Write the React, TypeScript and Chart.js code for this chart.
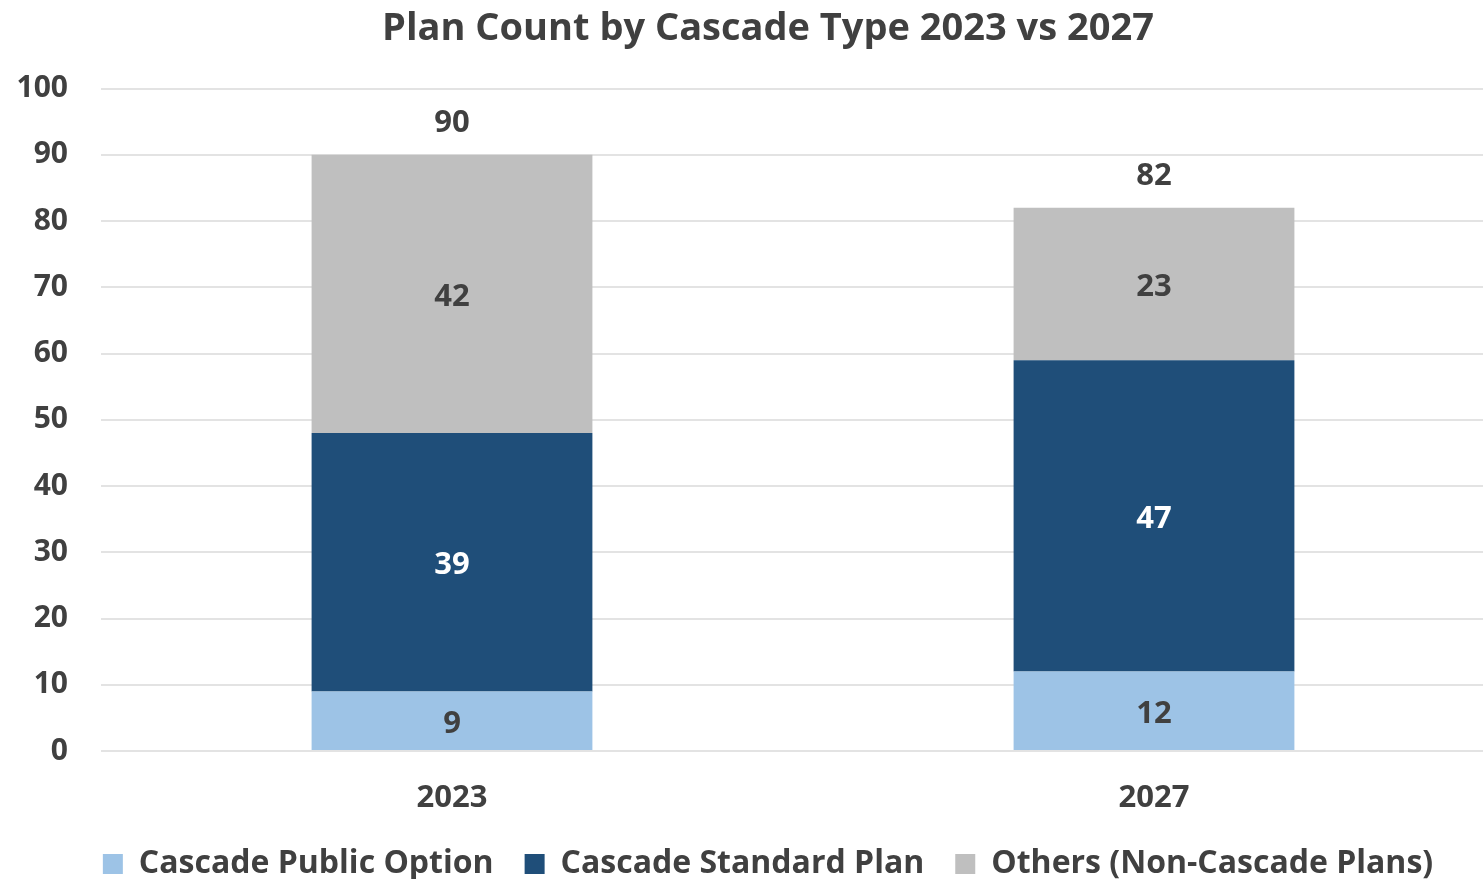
import React, { useEffect, useRef } from "react";
import { Chart, registerables } from "chart.js";

Chart.register(...registerables);

const categories = ["2023", "2027"];
const seriesNames = ["Cascade Public Option", "Cascade Standard Plan", "Others (Non-Cascade Plans)"];
const publicOption = [9, 12];
const standardPlan = [39, 47];
const others = [42, 23];
const totals = [90, 82];
const seriesColors = ["#9DC3E6", "#1F4E79", "#BFBFBF"];
const labelColors = ["#404040", "#FFFFFF", "#404040"];

const FONT = "'Open Sans', 'Noto Sans', sans-serif";
const TEXT = "#404040";

const labelPlugin = {
  id: "segLabels",
  afterDatasetsDraw(chart: any) {
    const ctx = chart.ctx;
    ctx.save();
    ctx.font = `bold 31px ${FONT}`;
    ctx.textAlign = "center";
    ctx.textBaseline = "middle";
    chart.data.datasets.forEach((ds: any, di: number) => {
      const meta = chart.getDatasetMeta(di);
      meta.data.forEach((el: any, i: number) => {
        const y = (el.y + el.base) / 2;
        ctx.fillStyle = labelColors[di];
        ctx.fillText(String(ds.data[i]), el.x, y + 3);
      });
    });
    const lastMeta = chart.getDatasetMeta(chart.data.datasets.length - 1);
    lastMeta.data.forEach((el: any, i: number) => {
      ctx.fillStyle = TEXT;
      ctx.fillText(String(totals[i]), el.x, el.y - 32);
    });
    ctx.restore();
  },
};

export default function App() {
  const ref = useRef<HTMLCanvasElement>(null);
  useEffect(() => {
    document.body.style.margin = "0";
    const chart = new Chart(ref.current!, {
      type: "bar",
      data: {
        labels: categories,
        datasets: [
          { label: seriesNames[0], data: publicOption, backgroundColor: seriesColors[0] },
          { label: seriesNames[1], data: standardPlan, backgroundColor: seriesColors[1] },
          { label: seriesNames[2], data: others, backgroundColor: seriesColors[2] },
        ],
      },
      options: {
        animation: false,
        responsive: false,
        maintainAspectRatio: false,
        layout: { padding: { left: 17, right: 23, top: 6, bottom: 0 } },
        datasets: { bar: { categoryPercentage: 1, barPercentage: 0.4 } },
        scales: {
          x: {
            stacked: true,
            grid: { display: false, drawTicks: false },
            border: { display: false },
            ticks: { color: TEXT, font: { family: FONT, size: 31, weight: "bold" }, padding: 29 },
            afterFit(scale: any) {
              scale.height = 66;
            },
          },
          y: {
            stacked: true,
            min: 0,
            max: 100,
            ticks: { stepSize: 10, color: TEXT, font: { family: FONT, size: 30, weight: "bold" }, padding: 33 },
            grid: { color: "#E3E3E3", lineWidth: 2, drawTicks: false },
            border: { display: false },
            afterFit(scale: any) {
              scale.width = 84;
            },
          },
          yRight: {
            type: "linear",
            position: "right",
            display: true,
            grid: { display: false, drawTicks: false },
            border: { display: false },
            ticks: { display: false },
            afterFit(scale: any) {
              scale.width = 14;
            },
          },
        },
        plugins: {
          title: {
            display: true,
            text: "Plan Count by Cascade Type 2023 vs 2027",
            color: TEXT,
            font: { family: FONT, size: 38, weight: "bold" },
            padding: { top: 0, bottom: 37 },
          },
          legend: {
            position: "bottom",
            labels: {
              color: TEXT,
              font: { family: FONT, size: 32, weight: "bold" },
              boxWidth: 20,
              boxHeight: 20,
              padding: 31,
            },
          },
          tooltip: { enabled: false },
        },
      },
      plugins: [labelPlugin],
    });
    return () => chart.destroy();
  }, []);
  return (
    <div style={{ width: 1483, height: 879, overflow: "hidden", position: "relative", background: "#fff" }}>
      <canvas ref={ref} width={1542} height={890} style={{ position: "absolute", left: 0, top: 0 }} />
    </div>
  );
}
